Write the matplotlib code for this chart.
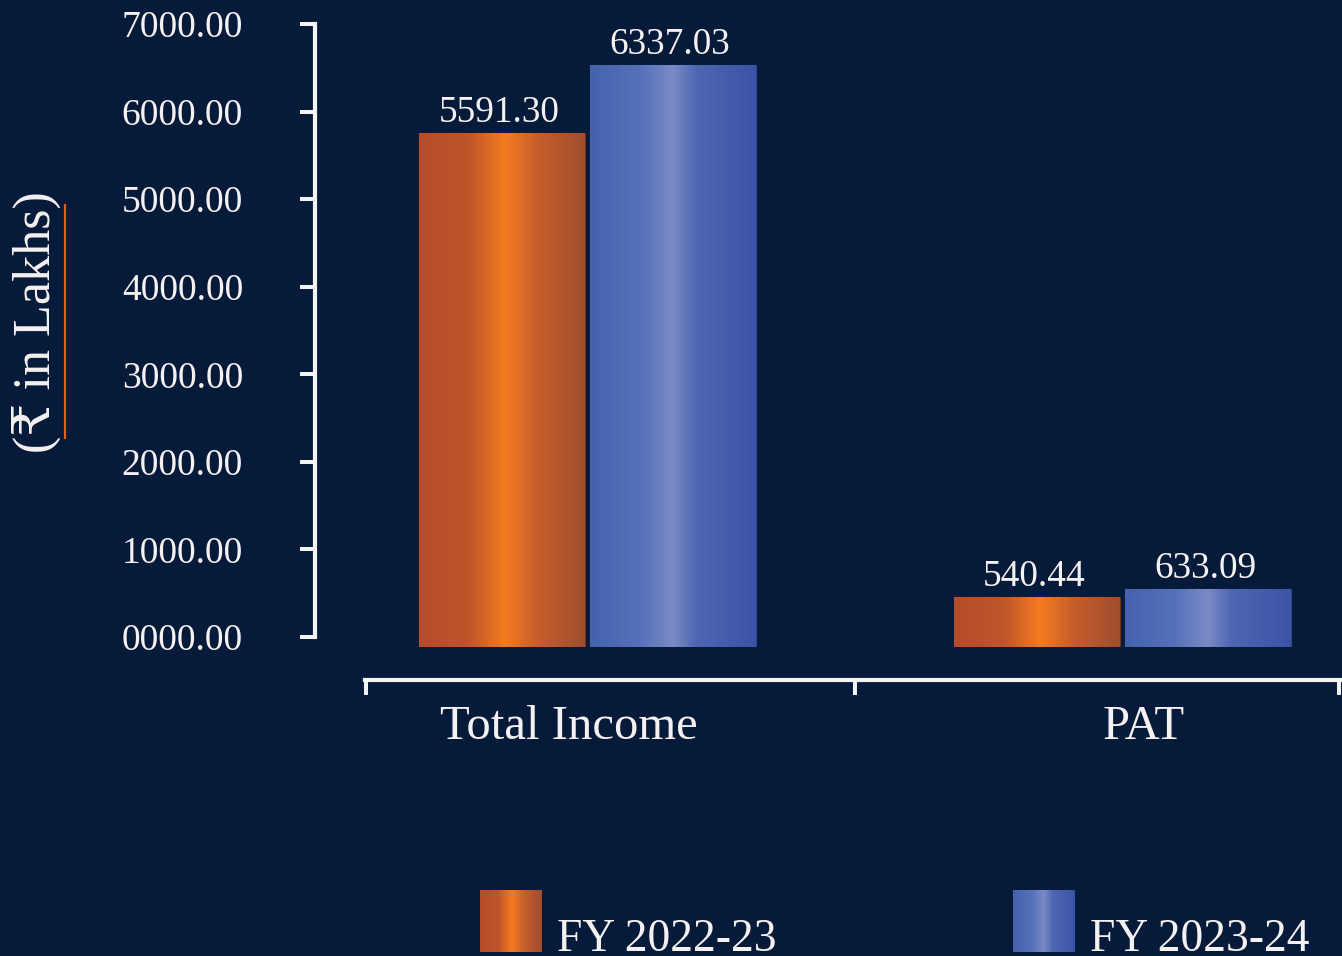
import matplotlib
matplotlib.use("Agg")
import matplotlib.pyplot as plt
import numpy as np
from matplotlib.colors import LinearSegmentedColormap
from matplotlib.legend_handler import HandlerBase
from matplotlib.image import BboxImage
from matplotlib.transforms import Bbox, TransformedBbox
from matplotlib.lines import Line2D

# data
categories = ["Total Income", "PAT"]
series_names = ["FY 2022-23", "FY 2023-24"]
fy_2022_23 = [5591.30, 540.44]
fy_2023_24 = [6337.03, 633.09]
y_ticks = [0, 1000, 2000, 3000, 4000, 5000, 6000, 7000]

bg = "#061a39"
txt = "#f5f1f1"
plt.rcParams["font.family"] = ["Liberation Serif", "DejaVu Serif", "DejaVu Sans"]

orange_cmap = LinearSegmentedColormap.from_list("org", [
    (0.0, "#b64c2a"), (0.3, "#bf552a"), (0.52, "#f47b20"),
    (0.72, "#c65d2c"), (1.0, "#a14d2f")])
blue_cmap = LinearSegmentedColormap.from_list("blu", [
    (0.0, "#4762ad"), (0.3, "#5571b9"), (0.5, "#7a8ac6"),
    (0.64, "#4f66b2"), (1.0, "#3b54a6")])
grad = np.linspace(0, 1, 256).reshape(1, -1)

W, H = 1342, 956
fig = plt.figure(figsize=(W / 100, H / 100), dpi=100)
fig.patch.set_facecolor(bg)

# bar axes
ax = fig.add_axes([365 / W, 309 / H, (W - 365) / W, 643 / H])
ax.set_facecolor("none")
x = np.arange(len(categories))
bw = 0.31
off = 0.16
bars_a = ax.bar(x - off, fy_2022_23, bw, color="#c0562a", edgecolor="#6b3020", linewidth=0.8)
bars_b = ax.bar(x + off, fy_2023_24, bw, color="#5066b2", edgecolor="#2e4590", linewidth=0.8)

for bars, cmap in [(bars_a, orange_cmap), (bars_b, blue_cmap)]:
    for r in bars:
        x0, y0 = r.get_x(), r.get_y()
        im = ax.imshow(grad, cmap=cmap, aspect="auto", interpolation="bilinear",
                       extent=(x0, x0 + r.get_width(), y0, y0 + r.get_height()), zorder=3)
        im.set_clip_path(r)
    for r, v in zip(bars, bars.datavalues):
        ax.annotate(f"{v:.2f}", (r.get_x() + r.get_width() / 2, v),
                    xytext=(-3, 11), textcoords="offset pixels",
                    ha="center", va="baseline", color=txt, fontsize=26.8, zorder=5)

ax.set_xlim(-0.416, 1.41)
ax.set_ylim(0, 7000)
for s in ["top", "right", "left"]:
    ax.spines[s].set_visible(False)
ax.spines["bottom"].set_position(("outward", 23.8))
ax.spines["bottom"].set_color("#f4f4f4")
ax.spines["bottom"].set_linewidth(3)
ax.set_yticks([])
ax.set_xticks([-0.035, 1.04])
ax.set_xticklabels(categories, fontsize=35, color=txt)
ax.tick_params(axis="x", which="major", length=0, pad=18)
ax.set_xticks([-0.414, 0.5, 1.405], minor=True)
ax.tick_params(axis="x", which="minor", length=10.5, width=2.9, color="#f4f4f4", direction="out")

# y axis
ay = fig.add_axes([315 / W, (H - 637) / H, 2 / W, 613 / H])
ay.set_facecolor("none")
ay.set_ylim(0, 7000)
ay.set_yticks(y_ticks)
ay.set_yticklabels([f"{t:07.2f}" for t in y_ticks], fontsize=27, color=txt)
ay.set_xticks([])
for s in ["top", "right", "bottom"]:
    ay.spines[s].set_visible(False)
ay.spines["left"].set_color("#f4f4f4")
ay.spines["left"].set_linewidth(3)
ay.tick_params(axis="y", length=10.8, width=2.9, color="#f4f4f4", pad=41)

fig.text(36 / W, 1 - 322 / H, "(₹ in Lakhs)", rotation=90, ha="center", va="center",
         fontsize=37.5, color=txt)
fig.add_artist(Line2D([65 / W, 65 / W], [1 - 205 / H, 1 - 438 / H],
                      transform=fig.transFigure, color="#e0601a", linewidth=1.6))


# legend with gradient swatches, swatch sits on the text baseline
class GradientHandler(HandlerBase):
    def __init__(self, cmap):
        super().__init__()
        self.cmap = cmap

    def create_artists(self, legend, orig_handle, xdescent, ydescent, width, height, fontsize, trans):
        bb = TransformedBbox(Bbox.from_bounds(-xdescent, -0.5, width, width), trans)
        img = BboxImage(bb, cmap=self.cmap, interpolation="bilinear")
        img.set_data(grad)
        return [img]


leg = fig.legend([bars_a, bars_b], series_names, loc="lower left",
                 bbox_to_anchor=(480 / W, -5 / H), ncol=2, frameon=False,
                 fontsize=32.8, labelcolor=txt, handlelength=1.36, handleheight=0.7,
                 handletextpad=0.33, columnspacing=5.2, borderpad=0, borderaxespad=0,
                 handler_map={bars_a: GradientHandler(orange_cmap),
                              bars_b: GradientHandler(blue_cmap)})

fig.savefig("out.png", dpi=100, facecolor=bg)
